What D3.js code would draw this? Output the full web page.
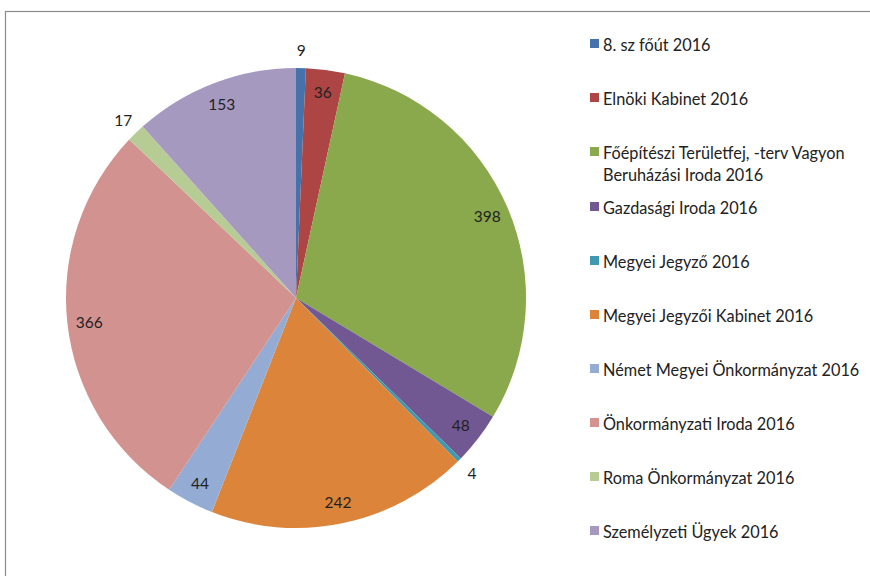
<!DOCTYPE html>
<html><head><meta charset="utf-8">
<script src="https://cdn.jsdelivr.net/npm/d3@7"></script>
<style>body{margin:0;background:#fff}svg{display:block}</style>
</head><body>
<svg id="c" width="870" height="576"></svg>
<script>
const categories = ["8. sz főút 2016","Elnöki Kabinet 2016","Főépítészi Területfej, -terv Vagyon Beruházási Iroda 2016","Gazdasági Iroda 2016","Megyei Jegyző 2016","Megyei Jegyzői Kabinet 2016","Német Megyei Önkormányzat 2016","Önkormányzati Iroda 2016","Roma Önkormányzat 2016","Személyzeti Ügyek 2016"];
const values = [9,36,398,48,4,242,44,366,17,153];
const colors = ["#4672ac","#ac4543","#8aa84c","#725892","#3f9ab1","#dd843b","#94abd4","#d29290","#b7cc95","#a699c0"];
const legendLines = [["8. sz főút 2016"],["Elnöki Kabinet 2016"],["Főépítészi Területfej, -terv Vagyon","Beruházási Iroda 2016"],["Gazdasági Iroda 2016"],["Megyei Jegyző 2016"],["Megyei Jegyzői Kabinet 2016"],["Német Megyei Önkormányzat 2016"],["Önkormányzati Iroda 2016"],["Roma Önkormányzat 2016"],["Személyzeti Ügyek 2016"]];

const svg = d3.select("#c");
const font = "Lato, 'Open Sans', sans-serif";
svg.append("rect").attr("x",5.5).attr("y",11.5).attr("width",900).attr("height",600)
  .attr("fill","none").attr("stroke","#8c8c8c").attr("stroke-width",1.2);

const cx=296, cy=298, r=230;
const pie = d3.pie().sort(null).value(d=>d)(values);
const arc = d3.arc().innerRadius(0).outerRadius(r);
const g = svg.append("g").attr("transform",`translate(${cx},${cy})`);
g.selectAll("path").data(pie).join("path").attr("d",arc).attr("fill",(d,i)=>colors[i]);

g.selectAll("text").data(pie).join("text")
  .attr("transform",d=>{
    const a=(d.startAngle+d.endAngle)/2;
    const rr = d.value<20 ? r+18 : r*0.905;
    return `translate(${Math.sin(a)*rr},${-Math.cos(a)*rr})`;
  })
  .attr("text-anchor","middle").attr("dominant-baseline","central")
  .attr("font-family",font).attr("font-size",15.5).attr("fill","#222")
  .text(d=>d.value);

const ys=[44,98,163,207,261,315,369,423,477,531];
const lg = svg.append("g");
categories.forEach((c,i)=>{
  const lines=legendLines[i];
  const y0 = lines.length>1 ? ys[i]-11 : ys[i];
  lg.append("rect").attr("x",590).attr("y",y0-5).attr("width",9).attr("height",9).attr("fill",colors[i]);
  lines.forEach((t,j)=>{
    lg.append("text").attr("x",603).attr("y",y0+j*22).attr("dominant-baseline","central")
      .attr("font-family",font).attr("font-size",16.3).attr("fill","#222").text(t);
  });
});
</script>
</body></html>
